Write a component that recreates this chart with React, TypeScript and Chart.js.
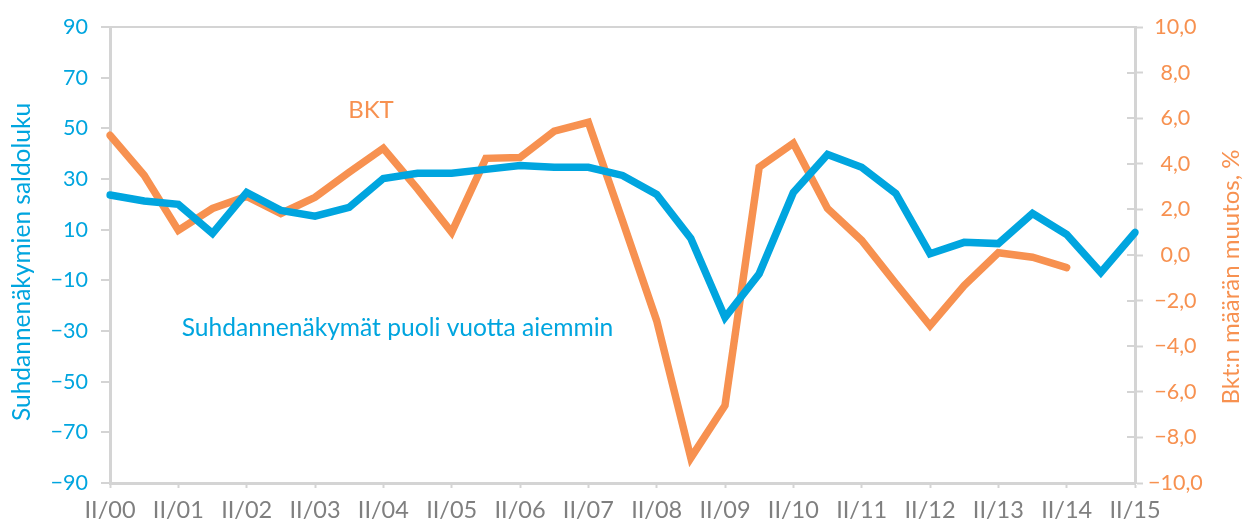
import React, { useEffect, useRef } from "react";
import { Chart, registerables } from "chart.js";

Chart.register(...registerables);

const periods = [
  "II/00", "I/01", "II/01", "I/02", "II/02", "I/03", "II/03", "I/04", "II/04", "I/05",
  "II/05", "I/06", "II/06", "I/07", "II/07", "I/08", "II/08", "I/09", "II/09", "I/10",
  "II/10", "I/11", "II/11", "I/12", "II/12", "I/13", "II/13", "I/14", "II/14", "I/15", "II/15",
];

// Suhdannenäkymät puoli vuotta aiemmin (saldoluku, vasen akseli)
const outlook = [
  23.7, 21.3, 20, 8.5, 24.7, 17.6, 15.3, 18.8, 30.2, 32.3,
  32.3, 33.8, 35.3, 34.6, 34.6, 31.4, 23.9, 6.5, -24.7, -7.4,
  24.7, 39.7, 34.6, 24.3, 0.5, 5, 4.5, 16.4, 8.1, -6.9, 8.9,
];

// BKT:n määrän muutos, % (oikea akseli)
const gdp = [
  5.25, 3.5, 1.08, 2.04, 2.57, 1.82, 2.53, 3.63, 4.68, 2.9,
  0.99, 4.24, 4.28, 5.43, 5.82, 1.5, -2.88, -8.9, -6.6, 3.85,
  4.9, 2.04, 0.64, -1.25, -3.1, -1.34, 0.1, -0.1, -0.55, null, null,
];

const leftTicks = { min: -90, max: 90, step: 20 };
const rightTicks = { min: -10, max: 10, step: 2 };

const BLUE = "#00a5df";
const ORANGE = "#f79150";
const GRAY = "#d4d4d4";
const LABEL_GRAY = "#7f7f7f";
const FONT = "Lato";
const W = 400;

const minus = (s: string) => s.replace("-", "\u2212");

const extras = {
  id: "extras",
  afterDraw(chart: any) {
    const ctx = chart.ctx;
    const { x, y, y1 } = chart.scales;
    ctx.save();
    // inner tick marks on right axis
    ctx.strokeStyle = GRAY;
    ctx.lineWidth = 2;
    y1.ticks.forEach((t: any) => {
      const py = Math.round(y1.getPixelForValue(t.value));
      ctx.beginPath();
      ctx.moveTo(y1.left - 8, py);
      ctx.lineTo(y1.left, py);
      ctx.stroke();
    });
    // axis titles
    ctx.textAlign = "center";
    ctx.textBaseline = "middle";
    ctx.font = `${W} 24.5px ${FONT}`;
    ctx.fillStyle = BLUE;
    ctx.save();
    ctx.translate(22, (y.top + y.bottom) / 2 + 7);
    ctx.rotate(-Math.PI / 2);
    ctx.fillText("Suhdannenäkymien saldoluku", 0, 0);
    ctx.restore();
    ctx.font = `${W} 24px ${FONT}`;
    ctx.fillStyle = ORANGE;
    ctx.save();
    ctx.translate(1231, (y.top + y.bottom) / 2 + 22);
    ctx.rotate(-Math.PI / 2);
    ctx.fillText("Bkt:n määrän muutos, %", 0, 0);
    ctx.restore();
    // series labels
    ctx.textAlign = "left";
    ctx.font = `${W} 24px ${FONT}`;
    ctx.fillStyle = ORANGE;
    ctx.fillText("BKT", x.getPixelForValue(6.97), y1.getPixelForValue(6.35));
    ctx.font = `${W} 24.6px ${FONT}`;
    ctx.fillStyle = BLUE;
    ctx.fillText("Suhdannenäkymät puoli vuotta aiemmin", x.getPixelForValue(2.1), y.getPixelForValue(-28.7));
    ctx.restore();
  },
};

export default function App() {
  const ref = useRef<HTMLCanvasElement>(null);
  useEffect(() => {
    if (!ref.current) return;
    const chart = new Chart(ref.current, {
      type: "line",
      data: {
        labels: periods,
        datasets: [
          {
            label: "Suhdannenäkymät puoli vuotta aiemmin",
            data: outlook,
            yAxisID: "y",
            borderColor: BLUE,
            backgroundColor: BLUE,
            borderWidth: 7.5,
            pointRadius: 0,
            borderCapStyle: "round",
            borderJoinStyle: "miter",
            tension: 0,
          },
          {
            label: "BKT",
            data: gdp,
            yAxisID: "y1",
            borderColor: ORANGE,
            backgroundColor: ORANGE,
            borderWidth: 7.5,
            pointRadius: 0,
            borderCapStyle: "round",
            borderJoinStyle: "miter",
            tension: 0,
          },
        ],
      },
      options: {
        animation: false,
        responsive: true,
        maintainAspectRatio: false,
        layout: { padding: { top: 27, left: 0, right: 0, bottom: 0 } },
        plugins: { legend: { display: false }, tooltip: { enabled: false } },
        scales: {
          x: {
            type: "category",
            offset: false,
            grid: {
              drawOnChartArea: false,
              tickLength: 5,
              tickWidth: 2,
              tickColor: (c: any) => (c.index % 2 === 0 ? GRAY : "rgba(0,0,0,0)"),
            },
            border: { color: GRAY, width: 3 },
            ticks: {
              autoSkip: false,
              maxRotation: 0,
              minRotation: 0,
              padding: 8,
              color: LABEL_GRAY,
              font: { family: FONT, size: 23.5, weight: W },
              callback: (_v: any, i: number) => (i % 2 === 0 ? periods[i] : ""),
            },
            afterFit: (s: any) => {
              s.height = 38;
            },
          },
          y: {
            position: "left",
            min: leftTicks.min,
            max: leftTicks.max,
            grid: {
              color: (c: any) =>
                c.tick && (c.tick.value === 0 || c.tick.value === leftTicks.max) ? GRAY : "rgba(0,0,0,0)",
              lineWidth: 2,
              tickColor: GRAY,
              tickLength: 9,
              tickWidth: 2,
            },
            border: { color: GRAY, width: 3 },
            ticks: {
              stepSize: leftTicks.step,
              padding: 13,
              color: BLUE,
              font: { family: FONT, size: 21.5, weight: W },
              callback: (v: any) => minus(String(v)),
            },
            afterFit: (s: any) => {
              s.width = 110;
            },
          },
          y1: {
            position: "right",
            min: rightTicks.min,
            max: rightTicks.max,
            grid: {
              drawOnChartArea: false,
              tickColor: GRAY,
              tickLength: 8,
              tickWidth: 2,
            },
            border: { color: GRAY, width: 3 },
            ticks: {
              stepSize: rightTicks.step,
              padding: 5,
              crossAlign: "center",
              color: ORANGE,
              font: { family: FONT, size: 21.5, weight: W },
              callback: (v: any) => minus(Number(v).toFixed(1).replace(".", ",")),
            },
            afterFit: (s: any) => {
              s.width = 108;
            },
          },
        },
      },
      plugins: [extras],
    });
    return () => chart.destroy();
  }, []);
  return (
    <div style={{ position: "absolute", left: 0, top: 0, width: 1243, height: 521, background: "#fff" }}>
      <canvas ref={ref} />
    </div>
  );
}
